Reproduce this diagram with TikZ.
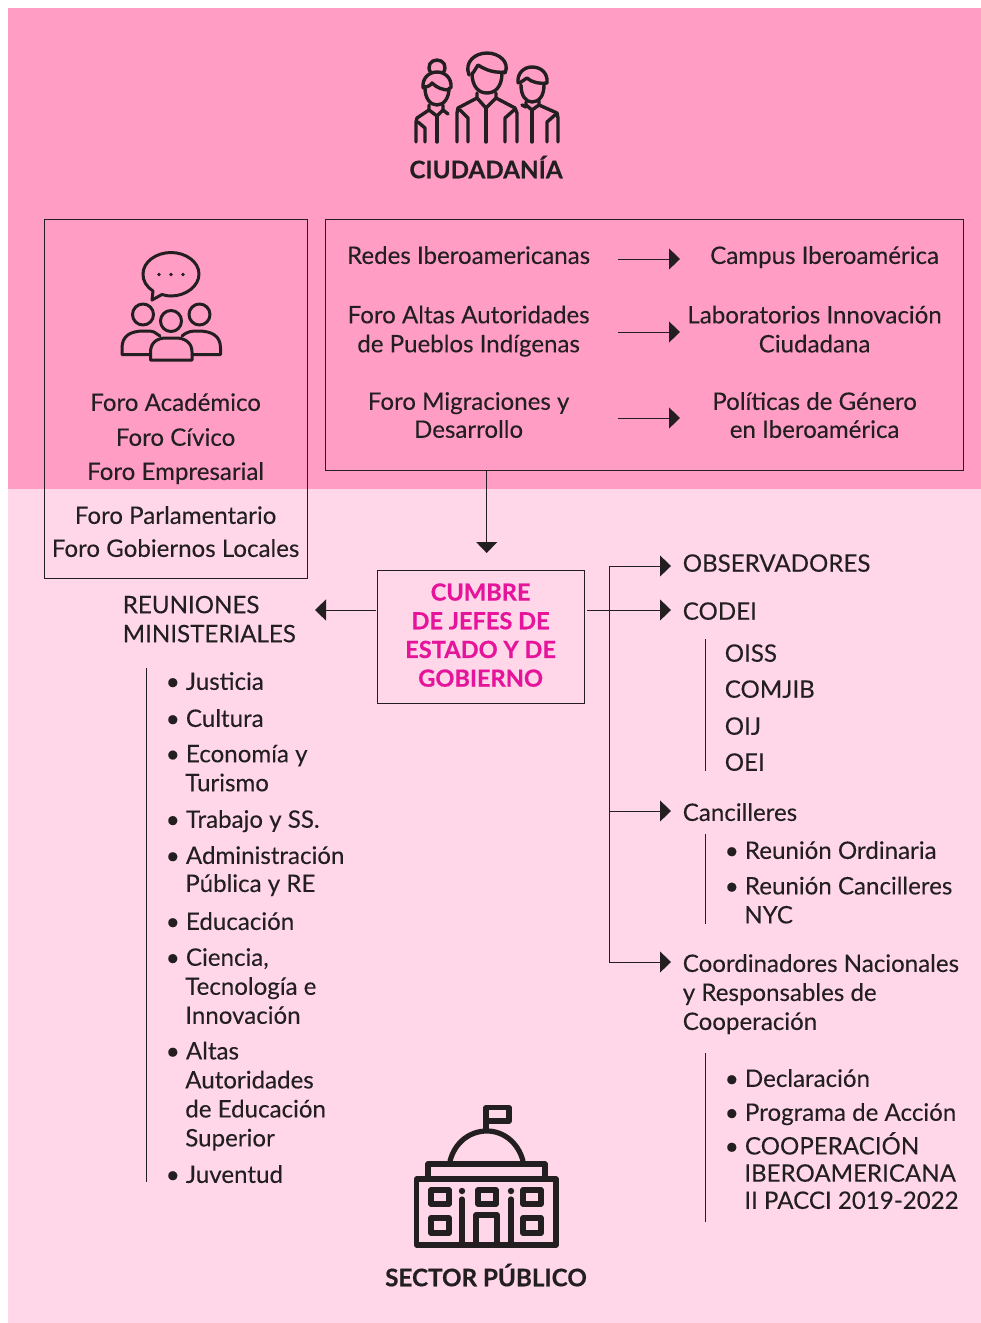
\documentclass[tikz,border=0pt]{standalone}
\usepackage{fontspec}
\setmainfont[FakeBold=0.12,BoldFeatures={FakeBold=0.5}]{Lato}
\usetikzlibrary{arrows.meta}
\definecolor{pinkA}{HTML}{FF9DC5}
\definecolor{pinkB}{HTML}{FFD7E9}
\definecolor{ink}{HTML}{231F20}
\definecolor{mag}{HTML}{E6149A}
\newcommand{\bl}{\textbullet\ }
\newcommand{\ind}{\hspace*{19.5pt}}
\tikzset{
  x=1pt,y=-1pt,
  txt/.style={font=\fontsize{24.1}{29}\selectfont,text=ink,inner sep=0pt,align=center,xshift=-0.4pt,yshift=0.9pt},
  ltxt/.style={txt,align=left,anchor=west},
  head/.style={txt,font=\bfseries\fontsize{24.2}{29}\selectfont},
  box/.style={draw=ink,line width=1pt},
  conn/.style={draw=ink,line width=1pt,-{Triangle[length=11pt,width=21pt]}},
  plain/.style={draw=ink,line width=1pt},
  rule/.style={draw=ink,line width=0.9pt},
  ico/.style={draw=ink,line width=3.4pt,line cap=round,line join=round},
  icoB/.style={draw=ink,line width=3pt,line cap=round,line join=round},
}
\begin{document}
\begin{tikzpicture}
\useasboundingbox (0,0) rectangle (981,1323);
\fill[white] (0,0) rectangle (981,1323);
\fill[pinkA] (8,8) rectangle (981,489);
\fill[pinkB] (8,489) rectangle (981,1323);

% citizens icon
\begin{scope}[ico]
 % centre person
 \draw (469,75) .. controls (464,62) and (475,53) .. (487,53) .. controls (499,53) and (510,62) .. (505,73);
 \draw (472,73) .. controls (472,87) and (479,93) .. (487,93) .. controls (495,93) and (502,87) .. (502,73);
 \draw (473,73) -- (478,65) .. controls (487,71) and (496,73) .. (505,72);
 \draw (477,93) -- (477,98) -- (486,108) -- (496,98) -- (496,93);
 \draw (477,98) -- (458,108) -- (457,113) -- (457,142);
 \draw (496,98) -- (515,108) -- (517,113) -- (517,142);
 \draw (486,108) -- (486,142);
 \draw (460,110) -- (468,118) -- (468,142);
 \draw (514,110) -- (505,118) -- (505,142);
 % left woman
 \draw (431,73) .. controls (426,66) and (431,60) .. (437,60) .. controls (443,60) and (448,66) .. (443,73);
 \draw (423,88) .. controls (422,78) and (429,72) .. (437,72) .. controls (445,72) and (452,78) .. (451,88);
 \draw (425,88) .. controls (425,98) and (430,105) .. (437,105) .. controls (444,105) and (449,98) .. (449,88);
 \draw (424,87) .. controls (428,87) and (431,85) .. (432,83) .. controls (437,88) and (443,90) .. (449,90);
 \draw (429,105) -- (429,110) -- (437,116) -- (443,110) -- (443,105);
 \draw (429,110) -- (417,118) -- (416,122) -- (416,142);
 \draw (443,110) -- (448,114);
 \draw (437,116) -- (437,142);
 \draw (418,122) -- (425,128) -- (425,142);
 % right man
 \draw (518,83) .. controls (517,73) and (524,67) .. (532,67) .. controls (541,67) and (548,73) .. (547,83);
 \draw (521,85) .. controls (521,96) and (526,102) .. (532,102) .. controls (539,102) and (544,96) .. (544,85);
 \draw (519,83) -- (521,82) -- (527,78) .. controls (531,82) and (539,84) .. (547,83);
 \draw (526,102) -- (526,105) -- (532,110) -- (539,105) -- (539,101);
 \draw (522,105) -- (526,107);
 \draw (539,105) -- (557,113) -- (558,118) -- (558,142);
 \draw (532,110) -- (532,142);
 \draw (555,115) -- (547,122) -- (547,142);
\end{scope}
\node[head] (ciudadania) at (486.4,168) {CIUDADANÍA};

% boxes
\node[box,minimum width=263.4pt,minimum height=359.4pt,inner sep=0pt] (foros) at (176,398.7) {};
\node[box,minimum width=638.4pt,minimum height=251.4pt,inner sep=0pt] (redes) at (644.3,344.7) {};

% chat + group icon
\begin{scope}[icoB]
 \draw (153,291) .. controls (146,286) and (143,281) .. (143,274) .. controls (143,262) and (156,252.5) .. (171,252.5) .. controls (186,252.5) and (199,262) .. (199,274) .. controls (199,286) and (186,296) .. (171,296) .. controls (168,296) and (165,295.5) .. (162,294.5) -- (152,300) -- cycle;
 \fill[ink] (159,274.5) circle (1.8) (171,274.5) circle (1.8) (183,274.5) circle (1.8);
 \draw (143,314.5) circle (10.5);
 \draw (171,321) circle (10.5);
 \draw (199.5,314.5) circle (10.5);
 \draw (160,336) -- (154,332) .. controls (152,331) and (150,331) .. (144,331) .. controls (130,331) and (122,336) .. (122,348) -- (122,354.5) -- (150,354.5);
 \draw (182,336) .. controls (188,331) and (192,331) .. (198,331) .. controls (212,331) and (220.5,336) .. (220.5,348) -- (220.5,354.5) -- (192,354.5);
 \draw (150.5,360) -- (150.5,352) .. controls (150.5,342) and (158,338) .. (166,338) -- (176,338) .. controls (184,338) and (192,342) .. (192,352) -- (192,360) -- cycle;
\end{scope}

\node[txt] (fa) at (176,403) {Foro Académico};
\node[txt] (fc) at (176,438) {Foro Cívico};
\node[txt] (fe) at (176,474) {Foro Empresarial};
\node[txt] (fp) at (176,516) {Foro Parlamentario};
\node[txt] (fg) at (176,549) {Foro Gobiernos Locales};

% redes
\node[txt] (r1) at (469,256) {Redes Iberoamericanas};
\node[txt] (c1) at (825,258) {Campus Iberoamérica};
\node[txt] (r2) at (469,332) {Foro Altas Autoridades\\de Pueblos Indígenas};
\node[txt] (c2) at (815,330) {Laboratorios Innovación\\Ciudadana};
\node[txt,font=\fontsize{24.1}{28}\selectfont] (r3) at (469,416) {Foro Migraciones y\\Desarrollo};
\node[txt,font=\fontsize{24.1}{28}\selectfont] (c3) at (815,416) {Políticas de Género\\en Iberoamérica};
\coordinate (a1s) at (618,259); \coordinate (a1e) at (680,259);
\coordinate (a2s) at (618,332); \coordinate (a2e) at (680,332);
\coordinate (a3s) at (618,418); \coordinate (a3e) at (680,418);
\draw[conn] (a1s) -- (a1e);
\draw[conn] (a2s) -- (a2e);
\draw[conn] (a3s) -- (a3e);

% cumbre
\node[box,minimum width=207pt,minimum height=133pt,inner sep=0pt] (cumbre) at (481,637) {};
\node[head,text=mag,font=\bfseries\fontsize{23.6}{28.7}\selectfont] (cumbretxt) at (481,636) {CUMBRE\\DE JEFES DE\\ESTADO Y DE\\GOBIERNO};
\coordinate (cumbreTop) at (486.7,553);
\draw[conn] (redes.south -| cumbreTop) -- (cumbreTop);

% left side
\coordinate (rmArrow) at (315,610);
\coordinate (cumbreL) at (376,610);
\draw[conn] (cumbreL) -- (rmArrow);
\node[ltxt] (rm) at (123,620) {REUNIONES\\MINISTERIALES};
\coordinate (rmT) at (146.7,668); \coordinate (rmB) at (146.7,1182);
\draw[rule] (rmT) -- (rmB);
\node[ltxt] (m1) at (166,682) {\bl Justicia};
\node[ltxt] (m2) at (166,719) {\bl Cultura};
\node[ltxt] (m3) at (166,769) {\bl Economía y\\\ind Turismo};
\node[ltxt] (m4) at (166,822) {\bl Trabajo y SS.};
\node[ltxt,font=\fontsize{24.1}{28}\selectfont] (m5) at (166,872) {\bl Administración\\\ind Pública y RE};
\node[ltxt] (m6) at (166,922) {\bl Educación};
\node[ltxt] (m7) at (166,987) {\bl Ciencia,\\\ind Tecnología e\\\ind Innovación};
\node[ltxt] (m8) at (166,1097) {\bl Altas\\\ind Autoridades\\\ind de Educación\\\ind Superior};
\node[ltxt] (m9) at (166,1175) {\bl Juventud};

% right tree
\coordinate (tT) at (609,566);
\coordinate (tB) at (609,962);
\coordinate (cumbreR) at (587,610);
\node[ltxt] (obs) at (683,564) {OBSERVADORES};
\node[ltxt] (codei) at (683,612) {CODEI};
\node[ltxt] (canc) at (683,813) {Cancilleres};
\node[ltxt] (coord) at (683,995) {Coordinadores Nacionales\\y Responsables de\\Cooperación};
\coordinate (obsA) at (671,566); \coordinate (codeiA) at (671,610);
\coordinate (cancA) at (671,811); \coordinate (coordA) at (671,962);
\coordinate (cancJ) at (609,811);
\draw[plain] (tB) -- (tT);
\draw[conn] (tT) -- (obsA);
\draw[conn] (cumbreR) -- (codeiA);
\draw[conn] (cancJ) -- (cancA);
\draw[conn] (tB) -- (coordA);

\coordinate (r1T) at (705,639); \coordinate (r1B) at (705,771);
\coordinate (r2T) at (705,834); \coordinate (r2B) at (705,924);
\coordinate (r3T) at (705,1053); \coordinate (r3B) at (705,1222);
\draw[rule] (r1T) -- (r1B);
\draw[rule] (r2T) -- (r2B);
\draw[rule] (r3T) -- (r3B);
\node[ltxt] (o1) at (725,654) {OISS};
\node[ltxt] (o2) at (725,690) {COMJIB};
\node[ltxt] (o3) at (725,727) {OIJ};
\node[ltxt] (o4) at (725,763) {OEI};
\node[ltxt] (k1) at (725,851) {\bl Reunión Ordinaria};
\node[ltxt] (k2) at (725,901) {\bl Reunión Cancilleres\\\ind NYC};
\node[ltxt] (d1) at (725,1079) {\bl Declaración};
\node[ltxt] (d2) at (725,1115) {\bl Programa de Acción};
\node[ltxt,font=\fontsize{24.1}{27.2}\selectfont] (d3) at (725,1171.5) {\bl COOPERACIÓN\\\ind IBEROAMERICANA\\\ind II PACCI 2019-2022};

% building icon
\begin{scope}[line width=5.2pt,draw=ink,line cap=round,line join=round]
 \draw (486,1130) -- (486,1107.5) -- (509,1107.5) -- (509,1121) -- (486,1121);
 \draw (450,1161) .. controls (455,1142) and (470,1131) .. (487,1131) .. controls (503,1131) and (518,1142) .. (523,1161);
 \draw (428,1177) -- (428,1164) -- (545,1164) -- (545,1177);
 \draw (416.7,1179) rectangle (556,1245);
 \foreach \xa/\ya in {431/1190,478/1190,523/1190,431/1218,523/1218}
   \draw (\xa,\ya) rectangle ++(18,\ifnum\ya=1190 14\else 15\fi);
 \fill[ink] (462,1191) circle (3.2) (511,1191) circle (3.2);
 \draw (462,1199) -- (462,1245);
 \draw (511,1199) -- (511,1245);
 \draw (476,1245) -- (476,1215) -- (497,1215) -- (497,1245);
\end{scope}
\node[head] (sector) at (486.4,1276) {SECTOR PÚBLICO};
\end{tikzpicture}
\end{document}
